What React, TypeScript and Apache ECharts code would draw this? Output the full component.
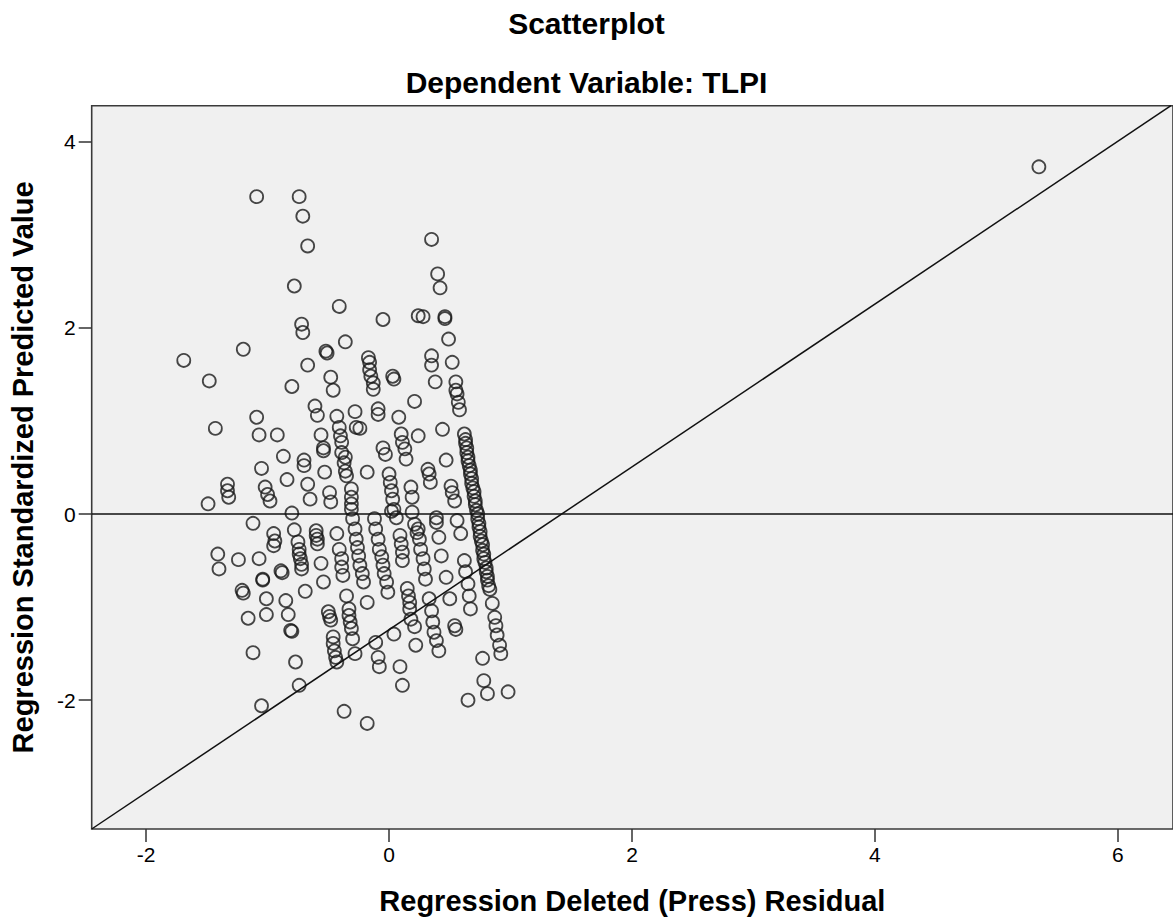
import React, { useEffect, useRef } from "react";
import * as echarts from "echarts";

const chartTitle = "Scatterplot";
const chartSubtitle = "Dependent Variable: TLPI";
const xAxisTitle = "Regression Deleted (Press) Residual";
const yAxisTitle = "Regression Standardized Predicted Value";

const xTicks = [-2, 0, 2, 4, 6];
const yTicks = [-2, 0, 2, 4];
const xRange = [-2.448, 6.454];
const yRange = [-3.384, 4.387];
const zeroLine = 0;
const refLine = [
  [-2.448, -3.384],
  [6.437, 4.387],
];

const upperLeft = [
  [-1.09, 3.41], [-0.74, 3.41], [-0.71, 3.2], [-0.67, 2.88], [-0.78, 2.45], [-0.41, 2.23],
  [-0.72, 2.04], [-0.71, 1.95], [-1.2, 1.77], [-1.69, 1.65], [-0.36, 1.85], [-0.52, 1.75],
  [-0.51, 1.73], [-0.67, 1.6], [-1.48, 1.43], [-0.8, 1.37], [-0.48, 1.47], [-0.46, 1.33],
  [-0.61, 1.16], [-0.59, 1.06], [-1.09, 1.04], [-0.43, 1.05], [-0.28, 1.1], [-1.43, 0.92],
  [-1.07, 0.85], [-0.92, 0.85], [-0.56, 0.85], [-0.41, 0.93], [-0.4, 0.84], [-0.39, 0.77],
  [-0.39, 0.66], [-0.36, 0.61], [-0.37, 0.55], [-0.36, 0.46], [-0.35, 0.41], [-0.27, 0.93],
  [-0.87, 0.62], [-0.7, 0.58], [-0.7, 0.52], [-0.54, 0.68], [-0.54, 0.71], [-1.05, 0.49],
  [-0.84, 0.37], [-0.53, 0.45], [-0.67, 0.32], [-1.33, 0.32], [-1.33, 0.25], [-1.32, 0.18],
  [-1.02, 0.29], [-1.0, 0.21], [-0.98, 0.14], [-0.65, 0.16], [-0.49, 0.23], [-0.48, 0.13],
  [-0.31, 0.27], [-0.31, 0.18], [-0.31, 0.11], [-1.49, 0.11],
];

const upperMiddle = [
  [-0.05, 2.09], [0.24, 2.13], [-0.17, 1.68], [-0.16, 1.63], [-0.16, 1.55], [-0.15, 1.48],
  [-0.13, 1.41], [-0.13, 1.34], [0.03, 1.48], [0.04, 1.45], [-0.24, 0.92], [-0.09, 1.13],
  [-0.09, 1.07], [0.08, 1.04], [0.21, 1.21], [-0.18, 0.45], [-0.05, 0.71], [-0.03, 0.64],
  [0.1, 0.86], [0.11, 0.77], [0.13, 0.7], [0.14, 0.59], [0.24, 0.84], [0.0, 0.43],
  [0.01, 0.34], [0.02, 0.25], [0.03, 0.16], [0.02, 0.03], [0.18, 0.29], [0.19, 0.18],
  [0.35, 2.95], [0.4, 2.58], [0.42, 2.43], [0.28, 2.12], [0.46, 2.12], [0.46, 2.1],
  [0.49, 1.88], [0.35, 1.7], [0.35, 1.6], [0.52, 1.63], [0.38, 1.42], [0.55, 1.42],
  [0.55, 1.33], [0.56, 1.29], [0.57, 1.2], [0.58, 1.12], [0.44, 0.91], [0.47, 0.58],
  [0.32, 0.48], [0.33, 0.43], [0.34, 0.34], [0.51, 0.3], [0.52, 0.23], [0.54, 0.14],
];

const lowerLeft = [
  [-0.8, 0.01], [-1.12, -0.1], [-0.78, -0.17], [-0.95, -0.21], [-0.94, -0.29], [-0.95, -0.34],
  [-0.6, -0.18], [-0.6, -0.23], [-0.59, -0.27], [-0.59, -0.32], [-0.75, -0.3], [-0.74, -0.38],
  [-0.74, -0.43], [-0.73, -0.48], [-0.72, -0.54], [-0.72, -0.59], [-0.43, -0.21], [-0.41, -0.38],
  [-0.39, -0.48], [-0.39, -0.57], [-0.38, -0.66], [-1.41, -0.43], [-1.4, -0.59], [-1.24, -0.49],
  [-1.07, -0.48], [-0.56, -0.53], [-0.89, -0.61], [-0.88, -0.63], [-1.04, -0.7], [-1.04, -0.71],
  [-0.54, -0.73], [-1.21, -0.82], [-1.2, -0.85], [-0.69, -0.83], [-1.01, -0.91], [-0.85, -0.93],
  [-0.35, -0.88], [-0.33, -1.02], [-0.33, -1.09], [-0.32, -1.16], [-0.31, -1.23], [-0.3, -1.34],
  [-0.5, -1.05], [-0.49, -1.1], [-0.48, -1.14], [-1.16, -1.12], [-1.01, -1.08], [-0.83, -1.08],
  [-0.81, -1.25], [-0.8, -1.26], [-0.46, -1.32], [-0.46, -1.39], [-0.45, -1.47], [-0.44, -1.54],
  [-0.43, -1.59], [-1.12, -1.49], [-0.77, -1.59], [-0.74, -1.84], [-1.05, -2.06], [-0.37, -2.12],
  [-0.28, -1.5],
];

const lowerMiddle = [
  [-0.31, 0.05], [-0.3, -0.05], [-0.28, -0.16], [-0.27, -0.27], [-0.26, -0.36], [-0.25, -0.45],
  [-0.24, -0.55], [-0.22, -0.64], [-0.21, -0.73], [-0.12, -0.05], [-0.11, -0.16], [-0.09, -0.27],
  [-0.08, -0.38], [-0.06, -0.46], [-0.05, -0.55], [-0.04, -0.64], [-0.02, -0.73], [-0.01, -0.84],
  [0.04, 0.05], [0.06, -0.04], [0.09, -0.23], [0.1, -0.32], [0.11, -0.41], [0.11, -0.5],
  [-0.18, -0.95], [-0.11, -1.38], [-0.09, -1.54], [-0.08, -1.64], [0.04, -1.29], [0.17, -1.02],
  [0.18, -1.13], [0.22, -1.41], [0.09, -1.64], [0.11, -1.84], [-0.18, -2.25], [0.15, -0.8],
  [0.16, -0.88], [0.17, -0.95], [0.19, 0.02], [0.21, -0.11], [0.23, -0.2], [0.21, -1.21],
];

const lowerRight = [
  [0.85, -0.96], [0.87, -1.11], [0.88, -1.2], [0.89, -1.3], [0.91, -1.41], [0.92, -1.5],
  [0.77, -1.55], [0.78, -1.79], [0.81, -1.93], [0.98, -1.91], [0.65, -2.0], [0.54, -1.2],
  [0.55, -1.24], [0.62, -0.5], [0.63, -0.62], [0.65, -0.75], [0.66, -0.88], [0.67, -1.02],
  [0.5, -0.91], [0.47, -0.68], [0.43, -0.45], [0.41, -0.25], [0.56, -0.07], [0.59, -0.21],
  [0.39, -0.04], [0.39, -0.09], [0.24, -0.16], [0.25, -0.27], [0.26, -0.38], [0.28, -0.48],
  [0.29, -0.59], [0.3, -0.7], [0.33, -0.91], [0.35, -1.04], [0.36, -1.16], [0.37, -1.27],
  [0.39, -1.36], [0.41, -1.47],
];

const denseStreak = [
  [0.62, 0.86], [0.63, 0.8], [0.63, 0.76], [0.64, 0.71], [0.64, 0.66], [0.65, 0.61],
  [0.65, 0.57], [0.66, 0.52], [0.67, 0.47], [0.67, 0.43], [0.68, 0.38], [0.68, 0.33],
  [0.69, 0.28], [0.7, 0.24], [0.7, 0.19], [0.71, 0.14], [0.71, 0.1], [0.72, 0.04],
  [0.73, 0.0], [0.73, -0.05], [0.74, -0.1], [0.74, -0.14], [0.75, -0.19], [0.75, -0.24],
  [0.76, -0.29], [0.77, -0.33], [0.77, -0.39], [0.78, -0.43], [0.78, -0.48], [0.79, -0.52],
  [0.8, -0.58], [0.8, -0.62], [0.81, -0.67], [0.81, -0.71], [0.82, -0.77], [0.83, -0.81],
];

const outliers = [[5.35, 3.73]];

const FONT = '"Liberation Sans", Arial, Helvetica, sans-serif';

export default function App() {
  const ref = useRef<HTMLDivElement>(null);

  useEffect(() => {
    if (!ref.current) return;
    const chart = echarts.init(ref.current, null, { renderer: "svg" });
    const points = [
      ...upperLeft,
      ...upperMiddle,
      ...lowerLeft,
      ...lowerMiddle,
      ...lowerRight,
      ...denseStreak,
      ...outliers,
    ];
    chart.setOption({
      animation: false,
      backgroundColor: "#ffffff",
      title: [
        {
          text: chartTitle,
          left: "center",
          top: 8,
          padding: 0,
          textStyle: { fontSize: 30, fontWeight: "bold", color: "#000", fontFamily: FONT },
        },
        {
          text: chartSubtitle,
          left: "center",
          top: 67,
          padding: 0,
          textStyle: { fontSize: 30, fontWeight: "bold", color: "#000", fontFamily: FONT },
        },
      ],
      grid: {
        left: 91.7,
        top: 105.7,
        right: -2,
        bottom: 89.3,
        show: true,
        backgroundColor: "#f0f0f0",
        borderColor: "#3a3a3a",
        borderWidth: 1.6,
        containLabel: false,
      },
      xAxis: {
        type: "value",
        position: "bottom",
        min: xRange[0],
        max: xRange[1],
        name: xAxisTitle,
        nameLocation: "middle",
        nameGap: 57,
        nameTextStyle: { fontSize: 29, fontWeight: "bold", color: "#000", fontFamily: FONT },
        axisLine: { show: false, onZero: false },
        splitLine: { show: false },
        axisTick: {
          show: true,
          inside: false,
          length: 13,
          customValues: xTicks,
          lineStyle: { color: "#333", width: 1.5 },
        },
        axisLabel: {
          customValues: xTicks,
          fontSize: 21,
          color: "#000",
          fontFamily: FONT,
          margin: 15,
        },
      },
      yAxis: {
        type: "value",
        position: "left",
        min: yRange[0],
        max: yRange[1],
        name: yAxisTitle,
        nameLocation: "middle",
        nameGap: 54,
        nameRotate: 90,
        nameTextStyle: { fontSize: 29, fontWeight: "bold", color: "#000", fontFamily: FONT },
        axisLine: { show: false, onZero: false },
        splitLine: { show: false },
        axisTick: {
          show: true,
          inside: false,
          length: 13,
          customValues: yTicks,
          lineStyle: { color: "#333", width: 1.5 },
        },
        axisLabel: {
          customValues: yTicks,
          fontSize: 21,
          color: "#000",
          fontFamily: FONT,
          margin: 16,
        },
      },
      series: [
        {
          type: "scatter",
          data: points,
          symbol: "circle",
          symbolSize: 13,
          silent: true,
          itemStyle: {
            color: "rgba(0,0,0,0)",
            borderColor: "#1a1a1a",
            borderWidth: 1.8,
          },
          emphasis: { disabled: true },
          markLine: {
            silent: true,
            symbol: ["none", "none"],
            label: { show: false },
            lineStyle: { color: "#111", width: 1.5, type: "solid" },
            emphasis: { disabled: true },
            data: [
              { yAxis: zeroLine },
              [{ coord: refLine[0] }, { coord: refLine[1] }],
            ],
          },
        },
      ],
    });
    return () => chart.dispose();
  }, []);

  return (
    <div
      ref={ref}
      style={{ position: "fixed", left: 0, top: 0, width: 1173, height: 920 }}
    />
  );
}
